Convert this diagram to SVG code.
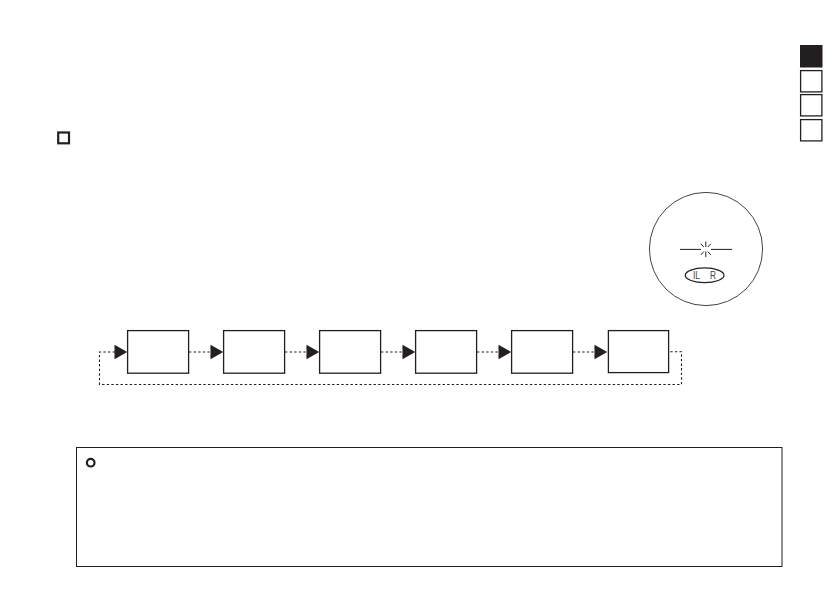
<svg xmlns="http://www.w3.org/2000/svg" width="839" height="595" viewBox="0 0 839 595">
<style>
.box{fill:#fff;stroke:#231f20;stroke-width:1.3}
.tab{fill:#fff;stroke:#231f20;stroke-width:1.3}
.dash{fill:none;stroke:#231f20;stroke-width:1.1;stroke-dasharray:2.4 2.2}
.tri{fill:#231f20}
.seg{font-family:"Liberation Sans",sans-serif;font-size:11px;fill:#444}
</style>
<rect width="839" height="595" fill="#fff"/>
<g id="tabs">
<rect x="800.5" y="45.5" width="21.5" height="21.5" fill="#231f20" stroke="#231f20"/>
<rect class="tab" x="800.6" y="70.6" width="21.3" height="21.3"/>
<rect class="tab" x="800.6" y="94.6" width="21.3" height="21.3"/>
<rect class="tab" x="800.6" y="119.6" width="21.3" height="21.3"/>
</g>
<rect id="heading-mark" x="58.2" y="132.5" width="10.8" height="10.8" fill="none" stroke="#231f20" stroke-width="2.2"/>
<g id="display">
<circle cx="706" cy="249" r="56.6" fill="none" stroke="#444" stroke-width="1"/>
<path d="M680 249.4H701M711 249.4H732M705.8 241.5V247M705.8 251.5V257M700.8 243.8L703.8 247M710.8 243.8L707.8 247M700.8 254.8L703.8 251.6M710.8 254.8L707.8 251.6" fill="none" stroke="#231f20" stroke-width="1"/>
<ellipse cx="704.6" cy="275.3" rx="19.4" ry="7.4" fill="none" stroke="#231f20" stroke-width="1.2"/>
<g transform="rotate(0.02 705 275)">
<text class="seg" x="693" y="279.3" textLength="7" lengthAdjust="spacingAndGlyphs">IL</text>
<text class="seg" x="710" y="279.3" textLength="6" lengthAdjust="spacingAndGlyphs">R</text>
</g>
</g>
<g id="connectors">
<path class="dash" d="M115 352H99.5V384.5H681.5V351.7H669"/>
<path class="dash" d="M189 352H211M285 352H307M381 352H403M477 352H499M573 352H595"/>
<polygon class="tri" points="114.5,344.8 127.2,352 114.5,359.2"/>
<polygon class="tri" points="210.5,344.8 223.2,352 210.5,359.2"/>
<polygon class="tri" points="306.5,344.8 319.2,352 306.5,359.2"/>
<polygon class="tri" points="402.5,344.8 415.2,352 402.5,359.2"/>
<polygon class="tri" points="498.5,344.8 511.2,352 498.5,359.2"/>
<polygon class="tri" points="594.5,344.8 607.2,352 594.5,359.2"/>
</g>
<g id="node-1"><rect class="box" x="127.6" y="330.6" width="61" height="42.6"/></g>
<g id="node-2"><rect class="box" x="223.6" y="330.6" width="61" height="42.6"/></g>
<g id="node-3"><rect class="box" x="319.6" y="330.6" width="61" height="42.6"/></g>
<g id="node-4"><rect class="box" x="415.6" y="330.6" width="61" height="42.6"/></g>
<g id="node-5"><rect class="box" x="511.6" y="330.6" width="61" height="42.6"/></g>
<g id="node-6"><rect class="box" x="608.4" y="330.6" width="60.2" height="42"/></g>
<g id="note">
<rect x="76.5" y="447.5" width="705.5" height="119" fill="none" stroke="#231f20" stroke-width="1"/>
<circle cx="90.7" cy="462.7" r="3.8" fill="none" stroke="#231f20" stroke-width="2.2"/>
</g>
</svg>
